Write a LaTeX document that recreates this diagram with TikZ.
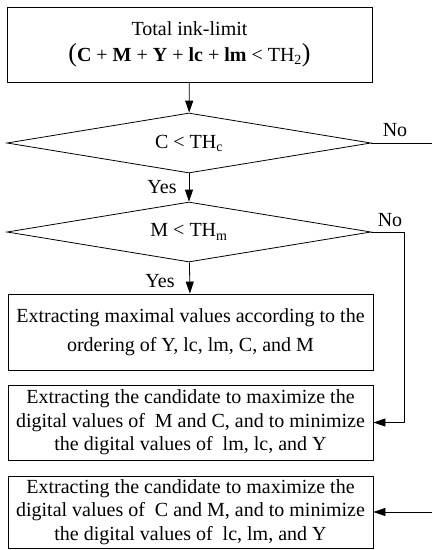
\documentclass[tikz,border=0pt]{standalone}
\usepackage{fontspec}
\setmainfont{Liberation Serif}
\usetikzlibrary{shapes.geometric,arrows.meta}

\begin{document}
\begin{tikzpicture}[x=1pt,y=-1pt,
    font=\fontsize{20}{23.5}\selectfont,
    stepbox/.style={draw,line width=0.8pt,align=center,minimum width=365pt,inner sep=0pt},
    decision/.style={draw,line width=0.8pt,diamond,aspect=6,minimum width=364pt,minimum height=60pt,inner sep=0pt},
    flow/.style={line width=0.8pt,-{Triangle[length=12pt,width=8pt]}},
    plain/.style={line width=0.8pt}]
    \useasboundingbox (0,0) rectangle (432,550);
    % boxes and tests
    \node[stepbox,minimum height=75pt] (limit) at (189.5,44.5)
        {Total ink-limit\\[2pt]{\fontsize{26}{26}\selectfont(}\textbf{C} + \textbf{M} + \textbf{Y} + \textbf{lc} + \textbf{lm} < TH\textsubscript{2}{\fontsize{26}{26}\selectfont)}};
    \node[decision] (testC) at (189,143) {C < TH\textsubscript{c}};
    \node[decision] (testM) at (189,232) {M < TH\textsubscript{m}};
    \node[stepbox,minimum height=76pt] (order) at (190.5,332)
        {Extracting maximal values according to the\\[6pt]ordering of Y, lc, lm, C, and M};
    \node[stepbox,minimum height=75pt] (candM) at (190.5,422.5)
        {Extracting the candidate to maximize the\\digital values of~ M and C, and to minimize\\the digital values of~ lm, lc, and Y};
    \node[stepbox,minimum height=72pt] (candC) at (190.5,512)
        {Extracting the candidate to maximize the\\digital values of~ C and M, and to minimize\\the digital values of~ lc, lm, and Y};
    % off-page ends
    \coordinate (exitC) at (432,143);
    \coordinate (enterC) at (432,512);
    \coordinate (turnM) at (404,232);
    % connectors
    \draw[flow] (limit) -- (testC);
    \draw[plain] (testC.east) -- (exitC);
    \draw[flow] (testC) -- (testM);
    \draw[flow] (testM) -- (order);
    \draw[flow] (testM.east) -- (turnM) |- (candM.east);
    \draw[flow] (enterC) -- (candC.east);
    % labels
    \node (noC) at (395,130) {No};
    \node (yesC) at (162,187) {Yes};
    \node (noM) at (390,220) {No};
    \node (yesM) at (160,281) {Yes};
\end{tikzpicture}
\end{document}
